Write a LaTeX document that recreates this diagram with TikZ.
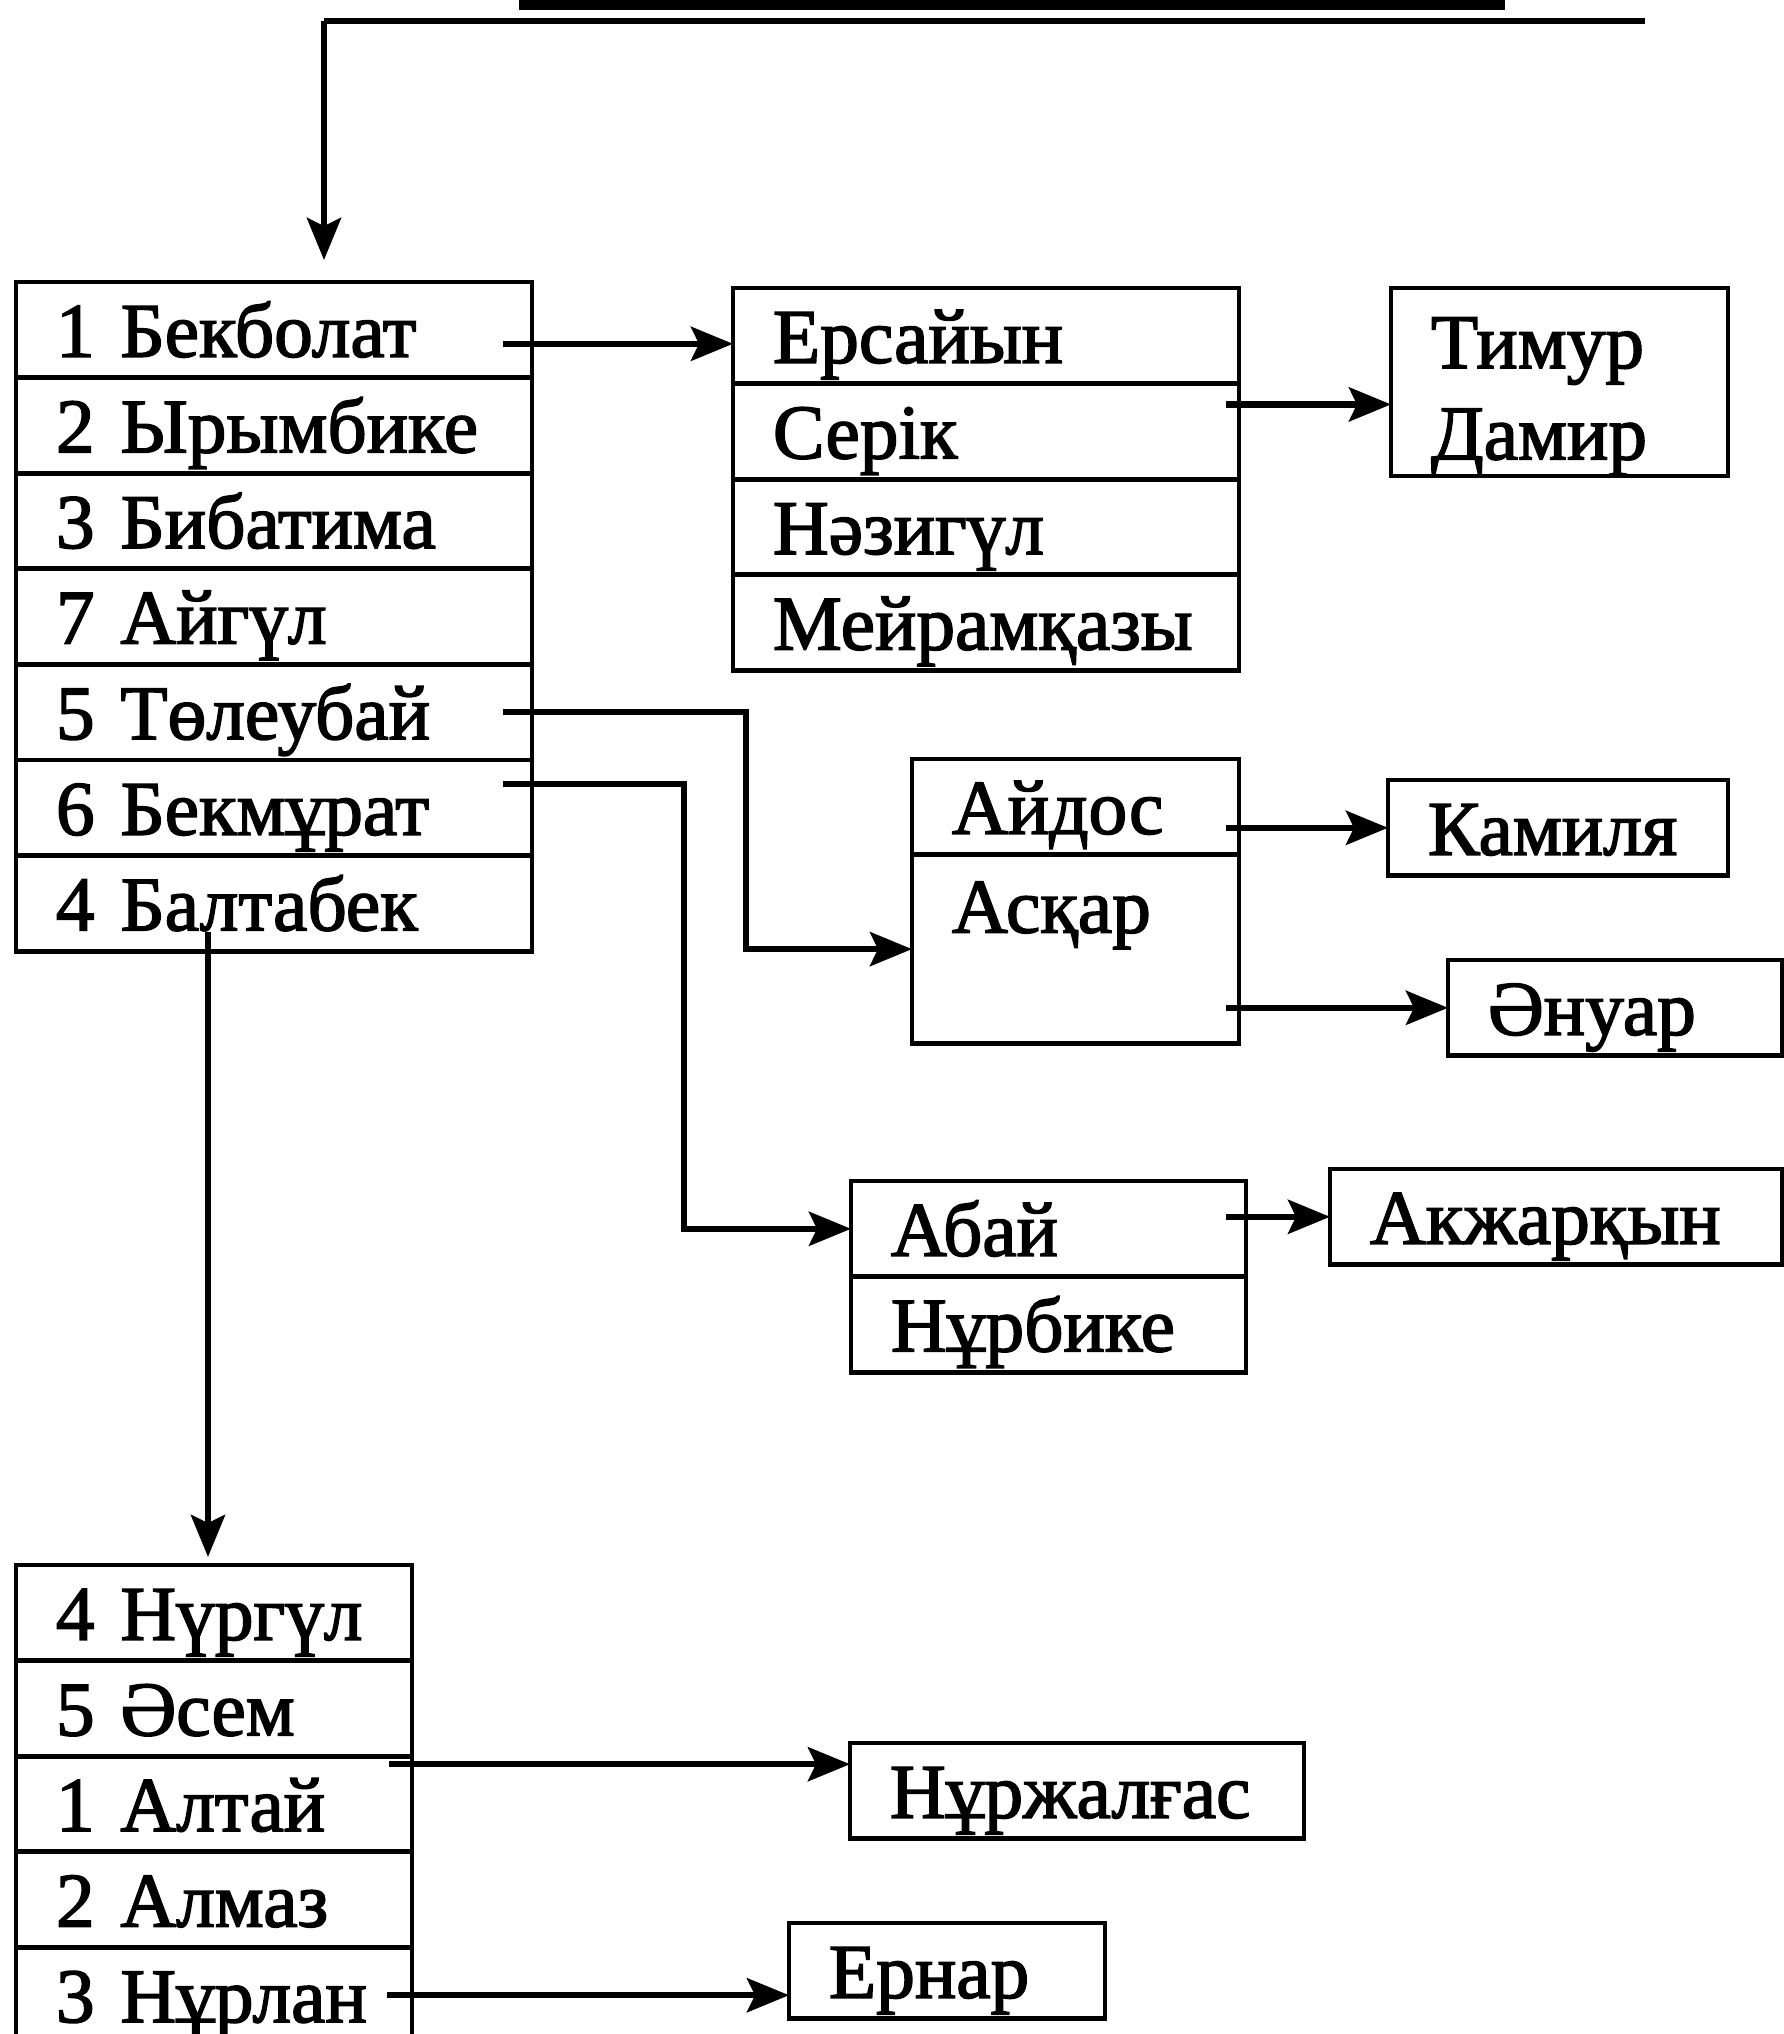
\documentclass[tikz,border=0pt]{standalone}
\usepackage{fontspec}
\newfontfamily\kzfont{Liberation Serif}[FakeBold=2]
\usetikzlibrary{positioning,arrows.meta,calc}

\begin{document}
\begin{tikzpicture}[
        every node/.style={font=\kzfont\fontsize{22}{26}\selectfont},
        cell/.style={draw, line width=1.4pt, outer sep=0pt, anchor=north west, align=left, text width=#1, inner xsep=0.4cm, inner ysep=0pt, minimum height=0.956cm, text height=0.62cm, text depth=0.08cm},
        arrow/.style={-{Stealth[length=4.2mm,width=3.4mm,inset=0.8mm]}, line width=1.8pt}
    ]
        \useasboundingbox (0,0) rectangle (17.84,-20.34);

        % Top: bar and incoming line
        \fill (5.19,0) rectangle (15.05,-0.10);
        \coordinate (topR) at (16.45,-0.21);
        \coordinate (topL) at (3.24,-0.21);

        % Main column
        \node[cell=4.36cm] (r1) at (0.16,-2.82) {1 Бекболат};
        \node[cell=4.36cm, below=0pt of r1] (r2) {2 Ырымбике};
        \node[cell=4.36cm, below=0pt of r2] (r3) {3 Бибатима};
        \node[cell=4.36cm, below=0pt of r3] (r4) {7 Айгүл};
        \node[cell=4.36cm, below=0pt of r4] (r5) {5 Төлеубай};
        \node[cell=4.36cm, below=0pt of r5] (r6) {6 Бекмұрат};
        \node[cell=4.36cm, below=0pt of r6] (r7) {4 Балтабек};

        % Children of Бекболат
        \node[cell=4.26cm] (e1) at (7.33,-2.88) {Ерсайын};
        \node[cell=4.26cm, below=0pt of e1] (e2) {Серік};
        \node[cell=4.26cm, below=0pt of e2] (e3) {Нәзигүл};
        \node[cell=4.26cm, below=0pt of e3] (e4) {Мейрамқазы};
        \node[cell=2.57cm, minimum height=1.88cm, text height=0.80cm, text depth=1.08cm] (tim) at (13.91,-2.88) {Тимур\\Дамир};

        % Children of Төлеубай
        \node[cell=2.47cm] (aid) at (9.12,-7.59) {Айдос};
        \node[cell=2.47cm, below=0pt of aid, minimum height=1.89cm, text height=0.78cm, text depth=1.11cm] (ask) {Асқар};
        \node[cell=2.60cm] (kam) at (13.88,-7.80) {Камиля};
        \node[cell=2.54cm] (anu) at (14.48,-9.60) {Әнуар};

        % Children of Бекмұрат
        \node[cell=3.15cm] (ab1) at (8.51,-11.81) {Абай};
        \node[cell=3.15cm, below=0pt of ab1] (ab2) {Нұрбике};
        \node[cell=3.72cm] (akz) at (13.30,-11.69) {Акжарқын};

        % Children of Балтабек
        \node[cell=3.16cm] (b1) at (0.16,-15.65) {4 Нүргүл};
        \node[cell=3.16cm, below=0pt of b1] (b2) {5 Әсем};
        \node[cell=3.16cm, below=0pt of b2] (b3) {1 Алтай};
        \node[cell=3.16cm, below=0pt of b3] (b4) {2 Алмаз};
        \node[cell=3.16cm, below=0pt of b4] (b5) {3 Нұрлан};
        \node[cell=3.74cm] (nur) at (8.50,-17.43) {Нұржалғас};
        \node[cell=2.36cm] (ern) at (7.89,-19.23) {Ернар};

        % Arrows
        \draw[line width=1.8pt] (topR) -- (topL);
        \draw[arrow, shorten >=0.22cm] (topL) -- (topL |- r1.north);
        \draw[arrow] ([xshift=-0.29cm,yshift=-0.14cm]r1.east) coordinate (a1) -- (a1 -| e1.west);
        \draw[arrow] ([xshift=-0.13cm,yshift=0.27cm]e2.east) coordinate (a2) -- (a2 -| tim.west);
        \draw[arrow] ([xshift=-0.29cm]r5.east) -| ([xshift=-1.66cm]ask.west) -- (ask.west);
        \draw[arrow] ([xshift=-0.29cm,yshift=0.24cm]r6.east) -| ([xshift=-1.67cm]ab1.west) -- (ab1.west);
        \draw[arrow] ($(kam.west -| aid.east)+(-0.13,0)$) -- (kam.west);
        \draw[arrow] ($(anu.west -| ask.east)+(-0.13,0)$) -- (anu.west);
        \draw[arrow] ($(akz.west -| ab1.east)+(-0.2,0)$) -- (akz.west);
        \draw[arrow, shorten >=0.08cm] ([xshift=1.92cm,yshift=0.19cm]r7.south west) -- ([xshift=1.92cm]b1.north west);
        \draw[arrow] ([xshift=-0.23cm,yshift=-0.08cm]b3.north east) coordinate (a3) -- (a3 -| nur.west);
        \draw[arrow] ([xshift=-0.25cm]b5.east) -- (b5.east -| ern.west);

    \end{tikzpicture}
\end{document}
